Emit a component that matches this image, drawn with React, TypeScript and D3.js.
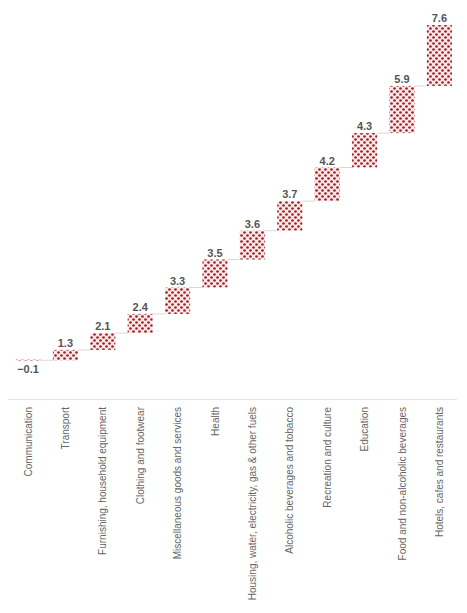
import { useEffect, useRef } from 'react';
import * as d3 from 'd3';

const categories = [
  'Communication',
  'Transport',
  'Furnishing, household equipment',
  'Clothing and footwear',
  'Miscellaneous goods and services',
  'Health',
  'Housing, water, electricity, gas & other fuels',
  'Alcoholic beverages and tobacco',
  'Recreation and culture',
  'Education',
  'Food and non-alcoholic beverages',
  'Hotels, cafes and restaurants',
];

const values = [-0.1, 1.3, 2.1, 2.4, 3.3, 3.5, 3.6, 3.7, 4.2, 4.3, 5.9, 7.6];

const yDomain: [number, number] = [-5, 45];

const width = 467;
const height = 613;

export default function App() {
  const svgRef = useRef<SVGSVGElement>(null);

  useEffect(() => {
    if (!svgRef.current) return;
    const svg = d3.select(svgRef.current);
    svg.selectAll('*').remove();

    // dotted pattern fill
    const defs = svg.append('defs');
    const pat = defs.append('pattern')
      .attr('id', 'dots')
      .attr('patternUnits', 'userSpaceOnUse')
      .attr('width', 6)
      .attr('height', 6);
    pat.append('rect').attr('width', 6).attr('height', 6).attr('fill', '#fbe9ea');
    pat.append('circle').attr('cx', 1.5).attr('cy', 1.5).attr('r', 1.35).attr('fill', '#a81e28');
    pat.append('circle').attr('cx', 4.5).attr('cy', 4.5).attr('r', 1.35).attr('fill', '#a81e28');

    const x = d3.scaleBand<string>()
      .domain(categories)
      .range([9.3, 458.1])
      .paddingInner(0.33)
      .paddingOuter(0.165);

    const y = d3.scaleLinear().domain(yDomain).range([399.5, -0.5]);

    // waterfall steps
    let run = 0;
    const steps = values.map((v, i) => {
      const start = run;
      run += v;
      return { name: categories[i], value: v, start, end: run };
    });

    const g = svg.append('g');

    // connectors
    g.selectAll('.conn')
      .data(steps.slice(0, -1))
      .join('line')
      .attr('class', 'conn')
      .attr('x1', d => (x(d.name) as number) + x.bandwidth())
      .attr('x2', (d, i) => x(steps[i + 1].name) as number)
      .attr('y1', d => y(d.end))
      .attr('y2', d => y(d.end))
      .attr('stroke', '#d9d9d9')
      .attr('stroke-width', 1);

    g.selectAll('.bar')
      .data(steps)
      .join('rect')
      .attr('class', 'bar')
      .attr('x', d => x(d.name) as number)
      .attr('width', x.bandwidth())
      .attr('y', d => y(Math.max(d.start, d.end)))
      .attr('height', d => Math.max(1.2, Math.abs(y(d.start) - y(d.end))))
      .attr('fill', 'url(#dots)');

    g.selectAll('.val')
      .data(steps)
      .join('text')
      .attr('class', 'val')
      .attr('x', d => (x(d.name) as number) + x.bandwidth() / 2)
      .attr('y', d => d.value >= 0 ? y(d.end) - 3 : y(d.end) + 13)
      .attr('text-anchor', 'middle')
      .attr('font-family', 'Liberation Sans, Arial, sans-serif')
      .attr('font-size', 11)
      .attr('font-weight', 'bold')
      .attr('fill', '#555')
      .text(d => d3.format('.1f')(d.value));

    // axis baseline
    g.append('line')
      .attr('x1', 8)
      .attr('x2', 457)
      .attr('y1', y(yDomain[0]))
      .attr('y2', y(yDomain[0]))
      .attr('stroke', '#e3e3e3')
      .attr('stroke-width', 1);

    g.selectAll('.cat')
      .data(categories)
      .join('text')
      .attr('class', 'cat')
      .attr('transform', d => `translate(${(x(d) as number) + x.bandwidth() / 2},407) rotate(-90)`)
      .attr('dy', '0.35em')
      .attr('text-anchor', 'end')
      .attr('font-family', 'Liberation Sans, Arial, sans-serif')
      .attr('font-size', 10)
      .attr('fill', '#666')
      .text(d => d);
  }, []);

  return (
    <svg
      ref={svgRef}
      width={width}
      height={height}
      style={{ position: 'absolute', left: 0, top: 0, background: '#fff' }}
    />
  );
}
